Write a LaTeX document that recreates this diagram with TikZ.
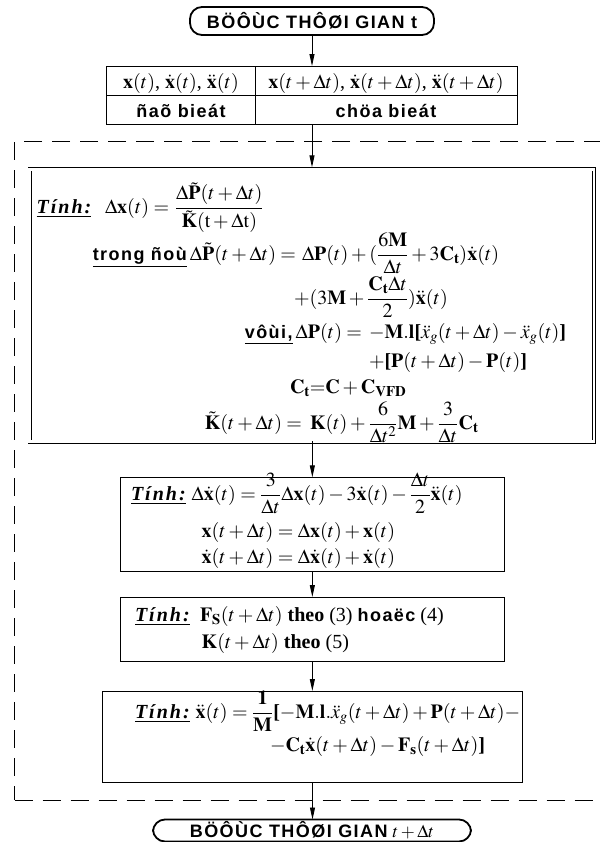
\documentclass[tikz,border=0pt]{standalone}
\usepackage{amsmath}
\usepackage{mathptmx}
\usepackage[no-math]{fontspec}
\setmainfont{Liberation Serif}
\newfontfamily\vnsf[LetterSpace=8]{Liberation Sans}
\newfontfamily\tnsp[LetterSpace=10]{Liberation Serif}
\usetikzlibrary{arrows.meta,calc}
\newcommand\tinh{\underline{{\tnsp\bfseries\itshape Tính:}}}
\newcommand\vnb[1]{{\fontsize{18bp}{22bp}\selectfont\vnsf\bfseries #1}}
\newcommand\vx{\mathbf{x}}
\newcommand\vxd{\dot{\mathbf{x}}}
\newcommand\vxdd{\ddot{\mathbf{x}}}
\newcommand\Ctt{\mathbf{C}_{\mathbf{t}}}
\newcommand\lbk{\mbox{\bfseries[}}
\newcommand\rbk{\mbox{\bfseries]}}
\begin{document}
\begin{tikzpicture}[x=1bp,y={(0bp,-1bp)},
  every node/.style={font=\fontsize{20bp}{24bp}\selectfont, inner sep=0pt, outer sep=0pt},
  term/.style={draw, line width=1.8bp, rounded corners=12bp},
  box/.style={draw, line width=1bp},
  dbox/.style={draw, double, line width=0.9bp, double distance=2.4bp},
  loopbox/.style={draw, line width=0.9bp, dash pattern=on 18bp off 10bp},
  arr/.style={line width=0.9bp, -{Triangle[length=12bp,width=5bp]}},
  txt/.style={anchor=base west},
  rtxt/.style={anchor=base east},
  ctxt/.style={anchor=base}]
\path[use as bounding box] (0,0) rectangle (600,842);
\clip (0,0) rectangle (600,842);

% dashed loop frame
\node[loopbox, minimum width=594.6bp, minimum height=658.3bp] (loop) at (312,470.85) {};

% start
\node[term, minimum width=244bp, minimum height=28bp] (start) at (312,21) {\vnb{BÖÔÙC THÔØI GIAN t}};

% table
\node[box, minimum width=410bp, minimum height=58bp] (tab) at (312,95) {};
\draw[line width=1bp] (tab.west) -- (tab.east);
\draw[line width=1bp] ($(tab.north west)+(148,0)$) -- ($(tab.south west)+(148,0)$);
\node[ctxt] (t11) at (181,88) {$\vx(t)$, $\vxd(t)$, $\vxdd(t)$};
\node[ctxt] (t12) at (386,88) {$\vx(t+\Delta t)$, $\vxd(t+\Delta t)$, $\vxdd(t+\Delta t)$};
\node[ctxt] (t21) at (181,117) {\vnb{ñaõ bieát}};
\node[ctxt] (t22) at (386,117) {\vnb{chöa bieát}};

% big double box
\node[dbox, minimum width=564.3bp, minimum height=272.3bp] (calc1) at (311.85,305.45) {};
\node[txt] (a1) at (36.7,213) {\tinh};
\node[txt] (a2) at (105,213) {$\Delta\vx(t)=$};
\node[txt] (a3) at (175,213) {$\dfrac{\Delta\tilde{\mathbf{P}}(t+\Delta t)}{\tilde{\mathbf{K}}(\mathrm{t}+\Delta\mathrm{t})}$};
\node[rtxt] (b2) at (296,260) {$\Delta\tilde{\mathbf{P}}(t+\Delta t)=$};
\node[rtxt] (b1) at ($(b2.base west)+(-3,0)$) {\underline{\vnb{trong ñoù}}};
\node[txt] (b3) at (302,260) {$\Delta\mathbf{P}(t)+(\dfrac{6\mathbf{M}}{\Delta t}+3\Ctt)\vxd(t)$};
\node[txt] (c1) at (294,304) {$+(3\mathbf{M}+\dfrac{\Ctt\Delta t}{2})\vxdd(t)$};
\node[rtxt] (d2) at (362,338) {$\Delta\mathbf{P}(t)=$};
\node[rtxt] (d1) at ($(d2.base west)+(-3,0)$) {\underline{\vnb{vôùi,}}};
\node[txt] (d3) at (369,338) {$-\mathbf{M}.\mathbf{l}$\lbk$\ddot{x}_g(t+\Delta t)-\ddot{x}_g(t)$\rbk};
\node[txt] (e1) at (369,367) {$+$\lbk$\mathbf{P}(t+\Delta t)-\mathbf{P}(t)$\rbk};
\node[txt] (f1) at (290,393) {$\Ctt{=}\mathbf{C}+\mathbf{C}_{\mathbf{VFD}}$};
\node[rtxt] (g1) at (302,429) {$\tilde{\mathbf{K}}(t+\Delta t)=$};
\node[txt] (g2) at (310,429) {$\mathbf{K}(t)+\dfrac{6}{\Delta t^2}\mathbf{M}+\dfrac{3}{\Delta t}\Ctt$};

% box 2
\node[box, minimum width=383.3bp, minimum height=93.7bp] (calc2) at (312.35,524.15) {};
\node[txt] (h1) at (131,500) {\tinh};
\node[txt] (h2) at ($(h1.base east)+(6,0)$) {$\Delta\vxd(t)=\dfrac{3}{\Delta t}\Delta\vx(t)-3\vxd(t)-\dfrac{\Delta t}{2}\vxdd(t)$};
\node[txt] (h3) at (201.7,537) {$\vx(t+\Delta t)=\Delta\vx(t)+\vx(t)$};
\node[txt] (h4) at (201.7,563) {$\vxd(t+\Delta t)=\Delta\vxd(t)+\vxd(t)$};

% box 3
\node[box, minimum width=383.3bp, minimum height=64bp] (calc3) at (312.35,629) {};
\node[txt] (i1) at (135,621) {\tinh};
\node[txt] (i2) at (200,621) {$\mathbf{F}_{\mathbf{S}}(t+\Delta t)$ \textbf{theo} (3) \vnb{hoaëc} (4)};
\node[txt] (i3) at (201.7,648) {$\mathbf{K}(t+\Delta t)$ \textbf{theo} (5)};

% box 4
\node[box, minimum width=419bp, minimum height=91bp] (calc4) at (312.5,736.5) {};
\node[txt] (j1) at (135,718) {\tinh};
\node[txt] (j2) at ($(j1.base east)+(6,0)$) {$\vxdd(t)=\dfrac{\mathbf{1}}{\mathbf{M}}$\lbk$-\mathbf{M}.\mathbf{l}.\ddot{x}_g(t+\Delta t)+\mathbf{P}(t+\Delta t)-$};
\node[txt] (j3) at (270,751) {$-\Ctt\vxd(t+\Delta t)-\mathbf{F}_{\mathbf{s}}(t+\Delta t)$\rbk};

% stop
\node[term, minimum width=318bp, minimum height=22bp] (stop) at (312,830.5) {\vnb{BÖÔÙC THÔØI GIAN} {\fontsize{18bp}{22bp}\selectfont$t+\Delta t$}};

% connectors
\draw[arr] (start.south) -- (start.south |- tab.north);
\draw[arr, shorten >=2bp] (tab.south) -- (tab.south |- calc1.north);
\draw[arr] (calc1.south) -- (calc1.south -| calc2.north) -- (calc2.north);
\draw[arr] (calc2.south) -- (calc2.south |- calc3.north);
\draw[arr] (calc3.south) -- (calc3.south |- calc4.north);
\draw[arr] (calc4.south) -- (calc4.south |- stop.north);
\end{tikzpicture}
\end{document}
